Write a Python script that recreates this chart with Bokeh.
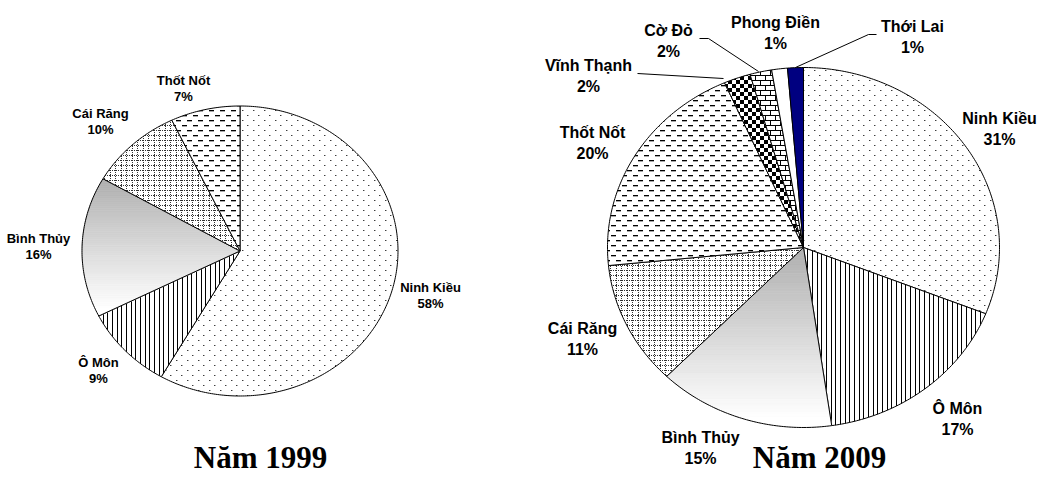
import math, zlib, struct, base64
from bokeh.plotting import figure
from bokeh.models import Range1d, ImageURLTexture
from bokeh.core.properties import value
from bokeh.embed import file_html
from bokeh.resources import INLINE

# ---------------- data ----------------
districts_1999 = ["Ninh Kiều", "Ô Môn", "Bình Thủy", "Cái Răng", "Thốt Nốt"]
shares_1999 = [58.3, 9.3, 15.7, 9.6, 7.1]

districts_2009 = ["Ninh Kiều", "Ô Môn", "Bình Thủy", "Cái Răng", "Thốt Nốt",
                  "Vĩnh Thạnh", "Cờ Đỏ", "Phong Điền", "Thới Lai"]
shares_2009 = [31.0, 16.7, 14.6, 11.1, 20.0, 2.2, 1.8, 1.3, 1.3]

titles = ["Năm 1999", "Năm 2009"]

# ---------------- styles / layout ----------------
W, H = 1038, 475

fill_style = {
    "Ninh Kiều": "dots", "Ô Môn": "vlines", "Bình Thủy": "gradient",
    "Cái Răng": "grid", "Thốt Nốt": "dashes", "Vĩnh Thạnh": "checker",
    "Cờ Đỏ": "brick", "Phong Điền": "white", "Thới Lai": "navy",
}

pie_geom = [  # (cx, cy, rx, ry)
    (239.5, 250.5, 158, 145),
    (803.0, 247.0, 196, 180),
]

label_pos_1999 = {
    "Ninh Kiều": (430, 287), "Ô Môn": (98, 362), "Bình Thủy": (38, 238),
    "Cái Răng": (100, 113), "Thốt Nốt": (183, 80),
}
label_pos_2009 = {
    "Ninh Kiều": (999, 118), "Ô Môn": (957, 408), "Bình Thủy": (700, 437),
    "Cái Răng": (582, 328), "Thốt Nốt": (592, 132), "Vĩnh Thạnh": (588, 65),
    "Cờ Đỏ": (668, 30), "Phong Điền": (775, 22), "Thới Lai": (912, 26),
}
leader_x = [[637, 723], [699, 708, 758], [876, 868, 795]]
leader_y = [[73, 78], [38, 38, 71], [34, 34, 67]]

title_pos = [(260, 474), (819, 474)]


# ---------------- textures ----------------
def png_uri(rows):
    h = len(rows)
    w = len(rows[0])
    raw = b"".join(b"\x00" + bytes(r) for r in rows)

    def chunk(t, d):
        c = struct.pack(">I", len(d)) + t + d
        return c + struct.pack(">I", zlib.crc32(t + d) & 0xFFFFFFFF)

    png = (b"\x89PNG\r\n\x1a\n"
           + chunk(b"IHDR", struct.pack(">IIBBBBB", w, h, 8, 0, 0, 0, 0))
           + chunk(b"IDAT", zlib.compress(raw))
           + chunk(b"IEND", b""))
    return "data:image/png;base64," + base64.b64encode(png).decode()


def tile(w, h):
    return [[255] * w for _ in range(h)]


def t_dots():
    t = tile(11, 10)
    t[0][0] = 60; t[0][1] = 170
    t[5][5] = 60; t[5][6] = 170
    return t


def t_vlines():
    t = tile(14, 2)
    for r in t:
        for x in (0, 5, 9):
            r[x] = 0
    return t


def t_grid():
    t = tile(11, 10)
    for y in range(10):
        for x in range(11):
            if (x in (0, 5) and y % 2 == 0) or (y in (0, 5) and x % 2 == 0):
                t[y][x] = 50
    return t


def t_dashes():
    t = tile(11, 10)
    for x in range(0, 5):
        t[0][x] = 0; t[1][x] = 170
    for x in range(6, 11):
        t[5][x] = 0; t[6][x] = 170
    return t


def t_checker():
    t = tile(8, 8)
    for y in range(8):
        for x in range(8):
            if (x // 4 + y // 4) % 2 == 0:
                t[y][x] = 0
    return t


def t_brick():
    t = tile(10, 10)
    for x in range(10):
        t[0][x] = 0; t[5][x] = 0
    for y in range(1, 5):
        t[y][0] = 0
    for y in range(6, 10):
        t[y][5] = 0
    return t


textures = {
    "dots": ImageURLTexture(url=png_uri(t_dots()), repetition="repeat"),
    "vlines": ImageURLTexture(url=png_uri(t_vlines()), repetition="repeat"),
    "grid": ImageURLTexture(url=png_uri(t_grid()), repetition="repeat"),
    "dashes": ImageURLTexture(url=png_uri(t_dashes()), repetition="repeat"),
    "checker": ImageURLTexture(url=png_uri(t_checker()), repetition="repeat"),
    "brick": ImageURLTexture(url=png_uri(t_brick()), repetition="repeat"),
}


# ---------------- geometry helpers ----------------
def slice_poly(cx, cy, rx, ry, a0, a1):
    n = max(2, int(abs(a1 - a0) / 0.75) + 1)
    pts = [(cx, cy)]
    for i in range(n + 1):
        t = math.radians(a0 + (a1 - a0) * i / n)
        pts.append((cx + rx * math.sin(t), cy - ry * math.cos(t)))
    return pts


def clip_band(poly, y_lo, y_hi):
    def half(pts, keep, yc):
        out = []
        for i in range(len(pts)):
            P = pts[i]
            Q = pts[(i + 1) % len(pts)]
            pin, qin = keep(P), keep(Q)
            if pin:
                out.append(P)
            if pin != qin:
                t = (yc - P[1]) / (Q[1] - P[1])
                out.append((P[0] + t * (Q[0] - P[0]), yc))
        return out
    pts = half(poly, lambda p: p[1] >= y_lo, y_lo)
    if pts:
        pts = half(pts, lambda p: p[1] <= y_hi, y_hi)
    return pts


# ---------------- figure ----------------
p = figure(width=W, height=H, x_range=Range1d(0, W),
           y_range=Range1d(H, 0), output_backend="svg",
           toolbar_location=None, x_axis_location=None, y_axis_location=None,
           min_border=0)
p.grid.visible = False
p.outline_line_color = None
p.background_fill_color = "white"
p.border_fill_color = "white"


def draw_pie(names, shares, geom):
    cx, cy, rx, ry = geom
    total = float(sum(shares))
    a = 0.0
    for name, v in zip(names, shares):
        a1 = a + 360.0 * v / total
        poly = slice_poly(cx, cy, rx, ry, a, a1)
        xs = [q[0] for q in poly]
        ys = [q[1] for q in poly]
        style = fill_style[name]
        if style == "gradient":
            y_top = min(ys)
            y_bot = max(ys)
            nb = 70
            for k in range(nb):
                y0 = y_top + (y_bot - y_top) * k / nb
                y1 = y_top + (y_bot - y_top) * (k + 1) / nb
                band = clip_band(poly, y0, y1)
                if len(band) < 3:
                    continue
                f = (k + 0.5) / nb
                g = int(round(175 + (255 - 175) * min(1.0, f / 0.95)))
                col = "#%02x%02x%02x" % (g, g, g)
                p.patches([[q[0] for q in band]], [[q[1] for q in band]],
                          fill_color=col, line_color=col, line_width=0.8)
            p.patches([xs], [ys], fill_color=None, line_color="black",
                      line_width=1)
        elif style in textures:
            p.patches([xs], [ys], fill_color="white", line_color="black",
                      line_width=1, hatch_pattern=value(style),
                      hatch_extra={style: textures[style]})
        elif style == "navy":
            p.patches([xs], [ys], fill_color="#000080", line_color="black",
                      line_width=1)
        else:
            p.patches([xs], [ys], fill_color="white", line_color="black",
                      line_width=1)
        a = a1


draw_pie(districts_1999, shares_1999, pie_geom[0])
draw_pie(districts_2009, shares_2009, pie_geom[1])

p.multi_line(leader_x, leader_y, line_color="black", line_width=1)


def draw_labels(names, shares, pos, size, gap):
    xs = [pos[n][0] for n in names]
    ys = [pos[n][1] for n in names]
    pct = ["%d%%" % round(v) for v in shares]
    common = dict(text_font=value("Liberation Sans"), text_font_style="bold",
                  text_font_size=size, text_align="center",
                  text_baseline="middle", text_color="black")
    p.text(x=xs, y=ys, text=list(names), **common)
    p.text(x=xs, y=[y + gap for y in ys], text=pct, **common)


draw_labels(districts_1999, shares_1999, label_pos_1999, "13px", 16)
draw_labels(districts_2009, shares_2009, label_pos_2009, "16px", 20.5)

p.text(x=[t[0] for t in title_pos], y=[t[1] for t in title_pos], text=titles,
       text_font=value("Liberation Serif"), text_font_style="bold",
       text_font_size="31px", text_align="center",
       text_baseline="bottom", text_color="black")

open("out.html", "w").write(file_html(p, INLINE))
